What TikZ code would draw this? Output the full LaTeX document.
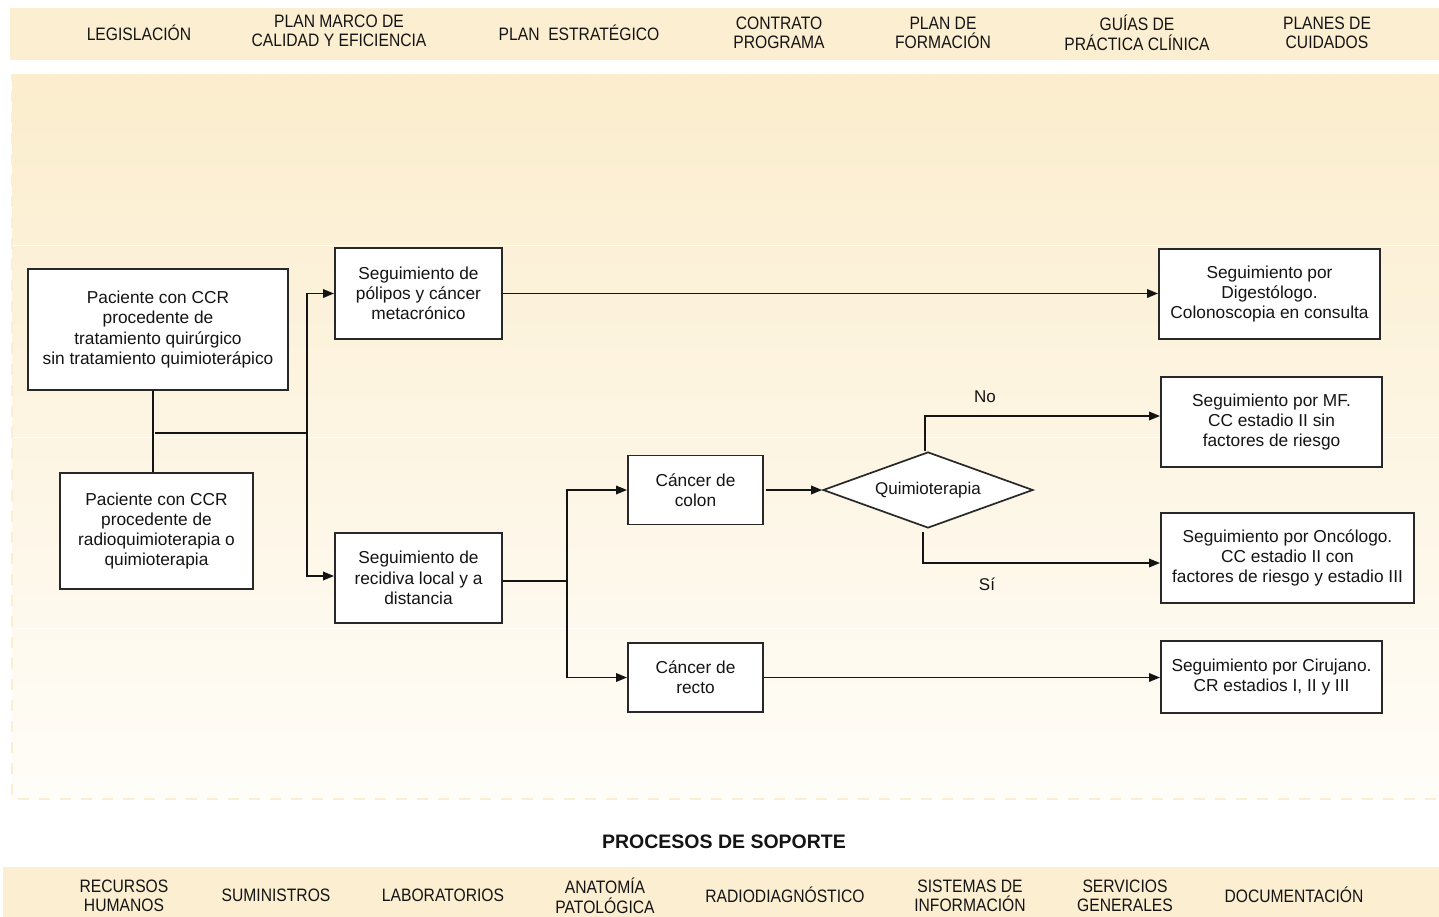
\documentclass[tikz,border=0pt]{standalone}
\usepackage{fontspec}
\setmainfont{Liberation Sans}
\newfontfamily\labfont{Liberation Sans}[FakeStretch=0.87]
\usetikzlibrary{arrows.meta,shapes.geometric}

\definecolor{cream}{RGB}{252,238,208}
\definecolor{creamtop}{RGB}{251,237,205}
\definecolor{creammid}{RGB}{253,245,227}
\definecolor{creambot}{RGB}{255,253,248}
\definecolor{ink}{RGB}{20,20,20}
\definecolor{frame}{RGB}{40,40,40}

\tikzset{
  band/.style={fill=cream, draw=none},
  lab/.style={font=\labfont\fontsize{18}{19.5}\selectfont, align=center, inner sep=0, text=ink},
  boxnode/.style={draw=frame, line width=1.9pt, fill=white, align=center,
    font=\fontsize{17.3}{20.3}\selectfont, inner sep=0, text=ink},
  decision/.style={diamond, draw=frame, line width=1.7pt, fill=white, aspect=2.76,
    minimum width=210pt, minimum height=76pt, inner sep=0,
    font=\fontsize{17}{20}\selectfont, text=ink},
  wire/.style={draw=ink, line width=1.8pt},
  arrow/.style={wire, -{Triangle[length=11pt,width=8.5pt]}},
  tag/.style={font=\fontsize{17}{20}\selectfont, inner sep=0, text=ink},
}

\begin{document}
\begin{tikzpicture}[x=1pt,y=-1pt]
\useasboundingbox (0,0) rectangle (1439,917);

% strategic processes band
\fill[band] (10,8) rectangle (1439,60);
\node[lab] (legis) at (139,33) {LEGISLACIÓN};
\node[lab] (marco) at (339,31) {PLAN MARCO DE\\CALIDAD Y EFICIENCIA};
\node[lab] (estrat) at (579,33) {PLAN\ \ ESTRATÉGICO};
\node[lab] (contrato) at (779,33) {CONTRATO\\PROGRAMA};
\node[lab] (formacion) at (943,33) {PLAN DE\\FORMACIÓN};
\node[lab] (guias) at (1137,33) {GUÍAS DE\\PRÁCTICA CLÍNICA};
\node[lab] (cuidados) at (1327,33) {PLANES DE\\CUIDADOS};

% key process area with soft gradient
\shade[top color=creamtop, bottom color=creambot, middle color=creammid]
  (12,75) rectangle (1445,799);
\draw[cream, line width=2pt, dash pattern=on 11pt off 10pt]
  (1445,75) -- (12,75) -- (12,799) -- (1445,799);
\foreach \yy in {246,437,628}
  \draw[white, line width=1pt, opacity=0.9] (13,\yy) -- (1439,\yy);

% flow boxes
\node[boxnode, minimum width=260pt, minimum height=121pt] (pqx) at (158,329.5)
  {Paciente con CCR\\procedente de\\tratamiento quirúrgico\\sin tratamiento quimioterápico};
\node[boxnode, minimum width=193pt, minimum height=116pt] (pqt) at (156.5,531)
  {Paciente con CCR\\procedente de\\radioquimioterapia o\\quimioterapia};
\node[boxnode, minimum width=167pt, minimum height=91pt] (polipos) at (418.5,293.5)
  {Seguimiento de\\pólipos y cáncer\\metacrónico};
\node[boxnode, minimum width=167pt, minimum height=90pt] (recidiva) at (418.5,578)
  {Seguimiento de\\recidiva local y a\\distancia};
\node[boxnode, minimum width=135pt, minimum height=69pt] (colon) at (695.5,490)
  {Cáncer de\\colon};
\node[boxnode, minimum width=135pt, minimum height=69pt] (recto) at (695.5,677.5)
  {Cáncer de\\recto};
\node[decision] (quimio) at (928,490) {Quimioterapia};
\node[boxnode, minimum width=221pt, minimum height=90pt] (digest) at (1269.5,294)
  {Seguimiento por\\Digestólogo.\\Colonoscopia en consulta};
\node[boxnode, minimum width=221pt, minimum height=90pt] (mf) at (1271.5,422)
  {Seguimiento por MF.\\CC estadio II sin\\factores de riesgo};
\node[boxnode, minimum width=253pt, minimum height=90pt] (onco) at (1287.5,558)
  {Seguimiento por Oncólogo.\\CC estadio II con\\factores de riesgo y estadio III};
\node[boxnode, minimum width=221pt, minimum height=72pt] (ciruj) at (1271.5,677)
  {Seguimiento por Cirujano.\\CR estadios I, II y III};

% junction points
\coordinate (j1) at (307,433);
\coordinate (j2) at (567,581);

% connectors
\draw[wire] ([xshift=-5pt]pqx.south) -- ([xshift=-3.5pt]pqt.north);
\draw[wire] ([xshift=-3pt]pqx.south |- j1) -- (j1);
\draw[arrow] (j1) |- (polipos.west);
\draw[arrow] (j1) |- ([yshift=2pt]recidiva.west);
\draw[arrow] (polipos.east) -- (polipos.east -| digest.west);
\draw[wire] ([yshift=-3pt]recidiva.east) -- (j2);
\draw[arrow] (j2) |- (colon.west);
\draw[arrow] (j2) |- (recto.west);
\draw[arrow] ([xshift=2pt]colon.east) -- (quimio.west);
\draw[arrow] ([xshift=-3pt]quimio.north) |- ([yshift=6pt]mf.west);
\draw[arrow] ([xshift=-5pt]quimio.south) ++(0,3) |- ([yshift=-5pt]onco.west);
\draw[arrow] (recto.east) -- (recto.east -| ciruj.west);

\node[tag] (no) at (985,397) {No};
\node[tag] (si) at (987,584) {Sí};

% support processes
\node[font=\bfseries\fontsize{19.5}{22}\selectfont, text=ink, inner sep=0]
  (soporte) at (724,842) {PROCESOS DE SOPORTE};
\fill[band] (3,867) rectangle (1439,917);
\node[lab] (rrhh) at (124,896) {RECURSOS\\HUMANOS};
\node[lab] (sumin) at (276,895) {SUMINISTROS};
\node[lab] (labor) at (443,895) {LABORATORIOS};
\node[lab] (anato) at (605,896) {ANATOMÍA\\PATOLÓGICA};
\node[lab] (radio) at (785,895) {RADIODIAGNÓSTICO};
\node[lab] (sistemas) at (970,896) {SISTEMAS DE\\INFORMACIÓN};
\node[lab] (servicios) at (1125,896) {SERVICIOS\\GENERALES};
\node[lab] (docum) at (1294,895) {DOCUMENTACIÓN};
\end{tikzpicture}
\end{document}
